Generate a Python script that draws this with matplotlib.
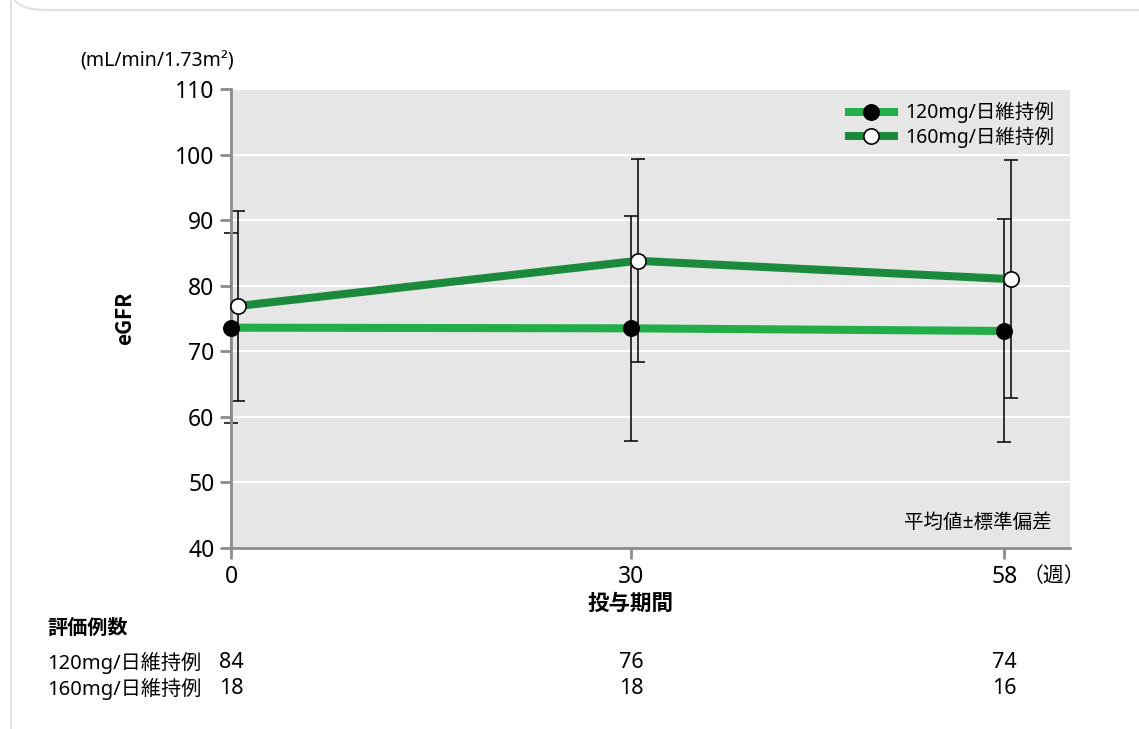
import numpy as np
import matplotlib
matplotlib.use('Agg')
import matplotlib.pyplot as plt
from matplotlib.patches import FancyBboxPatch
from matplotlib.lines import Line2D

plt.rcParams['font.family'] = ['Noto Sans', 'Noto Sans CJK JP', 'DejaVu Sans']
BOLD_FAMILY = ['Noto Sans CJK JP', 'DejaVu Sans']

## Data
weeks = [0, 30, 58]
offset = 0.5  # 160mg points are shifted a little to the right
mean_120 = [73.6, 73.5, 73.1]
sd_120 = [14.5, 17.2, 17.0]
mean_160 = [76.9, 83.8, 81.0]
sd_160 = [14.5, 15.5, 18.1]
labels = ['120mg/日維持例', '160mg/日維持例']
n_120 = ['84', '76', '74']
n_160 = ['18', '18', '16']
yticks = [40, 50, 60, 70, 80, 90, 100, 110]

green_120 = '#22ad4a'
green_160 = '#1b8a3c'
spine_col = '#8c8c8c'

W, H = 1139, 729
fig = plt.figure(figsize=(W / 100, H / 100), dpi=100)

## Card background
card = FancyBboxPatch((11 / W, 1 - 10 / H), 1.2, -1.2,
                      boxstyle='round,pad=0,rounding_size=0.03',
                      transform=fig.transFigure, facecolor='white',
                      edgecolor='#e2e2e2', linewidth=1.5, zorder=-5)
fig.patches.append(card)

ax = fig.add_axes([231 / W, 1 - 548 / H, (1070 - 231) / W, (548 - 89) / H])
ax.set_zorder(2)
ax.set_facecolor('#e6e6e6')
ax.set_xlim(0, (1070 - 231) / (400 / 30))
ax.set_ylim(40, 110)

for y in yticks[1:]:
    ax.axhline(y, color='white', lw=1.5, zorder=1)

x120 = np.array(weeks, dtype=float)
x160 = x120 + offset

## Error bars
ax.errorbar(x120, mean_120, yerr=sd_120, fmt='none', ecolor='black',
            elinewidth=1.1, capsize=5, capthick=1.1, zorder=2, clip_on=False)
ax.errorbar(x160, mean_160, yerr=sd_160, fmt='none', ecolor='black',
            elinewidth=1.1, capsize=5, capthick=1.1, zorder=2, clip_on=False)

## Lines
ax.plot(x120, mean_120, color=green_120, lw=5.8, solid_capstyle='butt', zorder=3)
ax.plot(x160, mean_160, color=green_160, lw=5.8, solid_capstyle='butt', zorder=3)

## Markers
ax.plot(x120, mean_120, 'o', ms=11, mfc='black', mec='black', mew=1.2,
        zorder=4, clip_on=False)
ax.plot(x160, mean_160, 'o', ms=11, mfc='white', mec='black', mew=1.2,
        zorder=4, clip_on=False)

## Axes styling
for s in ['top', 'right']:
    ax.spines[s].set_visible(False)
for s in ['left', 'bottom']:
    ax.spines[s].set_color(spine_col)
    ax.spines[s].set_linewidth(2)
ax.set_yticks(yticks)
ax.set_xticks(weeks)
ax.tick_params(axis='both', colors=spine_col, width=2, length=8,
               labelcolor='black', labelsize=16.5)
ax.tick_params(axis='y', pad=4)
ax.tick_params(axis='x', pad=4)

## Legend
handles = [
    Line2D([], [], color=green_120, lw=5.8, marker='o', ms=11,
           mfc='black', mec='black', mew=1.2),
    Line2D([], [], color=green_160, lw=5.8, marker='o', ms=11,
           mfc='white', mec='black', mew=1.2),
]
leg = ax.legend(handles, labels, loc='upper left',
                bbox_to_anchor=(849 / W, 1 - 102 / H),
                bbox_transform=fig.transFigure, frameon=False, fontsize=14,
                handlelength=2.3, handletextpad=0.6, labelspacing=0.15,
                borderpad=0, borderaxespad=0)

## Texts
fig.text(80 / W, 1 - 62 / H, '(mL/min/1.73m²)', fontsize=14,
         ha='left', va='center')
fig.text(125 / W, 1 - 318 / H, 'eGFR', fontsize=15, fontweight='bold',
         family=BOLD_FAMILY, rotation=90, ha='center', va='center')
fig.text(631 / W, 1 - 603 / H, '投与期間', fontsize=15.5, fontweight='bold',
         family=BOLD_FAMILY, ha='center', va='center')
fig.text(1054 / W, 1 - 577 / H, '（週）', fontsize=15, ha='center', va='center')
fig.text(1052 / W, 1 - 523 / H, '平均値±標準偏差', fontsize=14,
         ha='right', va='center', zorder=5)

## Number of evaluated cases
fig.text(47 / W, 1 - 627 / H, '評価例数', fontsize=14.5, fontweight='bold',
         family=BOLD_FAMILY, ha='left', va='center')
for row_y, lab, counts in [(663, labels[0], n_120), (689, labels[1], n_160)]:
    fig.text(47 / W, 1 - row_y / H, lab, fontsize=14.5, ha='left', va='center')
    for wk, c in zip(weeks, counts):
        xf = ax.transData.transform((wk, 0))[0] / W
        fig.text(xf, 1 - row_y / H, c, fontsize=15.5, ha='center', va='center')

fig.savefig('out.png', dpi=100)
